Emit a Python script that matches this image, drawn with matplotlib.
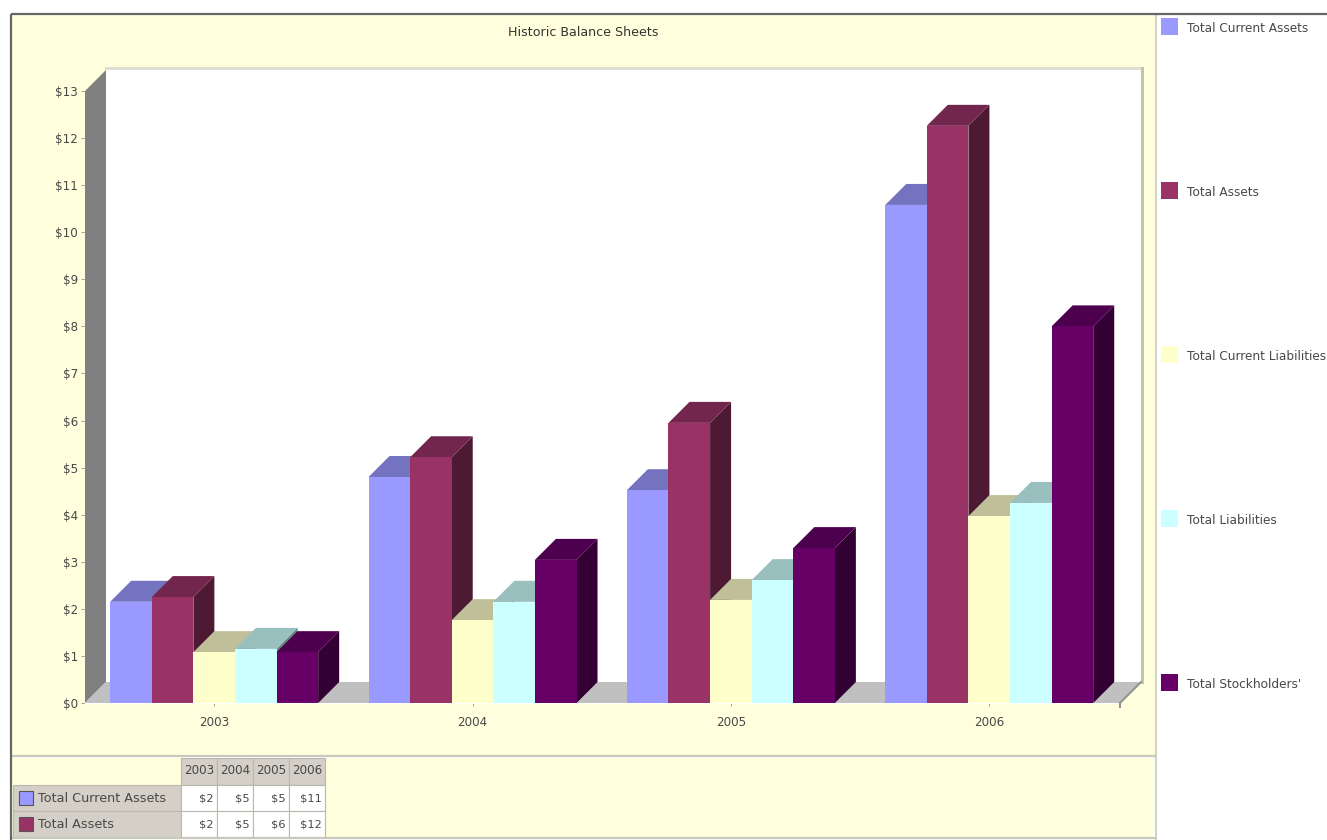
import matplotlib
matplotlib.use("Agg")
import matplotlib.pyplot as plt
from matplotlib.patches import Polygon, Rectangle

years = ["2003", "2004", "2005", "2006"]
series_names = ["Total Current Assets", "Total Assets", "Total Current Liabilities",
                "Total Liabilities", "Total Stockholders'"]
current_assets = [2.15, 4.80, 4.52, 10.58]
total_assets = [2.25, 5.22, 5.95, 12.26]
current_liabilities = [1.08, 1.76, 2.19, 3.97]
total_liabilities = [1.15, 2.15, 2.61, 4.25]
stockholders = [1.08, 3.04, 3.29, 8.00]
series_values = [current_assets, total_assets, current_liabilities, total_liabilities, stockholders]

front_colors = ["#9999FF", "#993366", "#FFFFCC", "#CCFFFF", "#660066"]
top_colors = ["#7373BF", "#73264D", "#BFBF99", "#99BFBF", "#4D004D"]
side_colors = ["#4D4D80", "#4D1933", "#80806A", "#668080", "#330033"]

y_ticks = list(range(0, 14))
table_rows = [["$2", "$5", "$5", "$11"], ["$2", "$5", "$6", "$12"]]

W, H = 1327, 840
TEXT = "#484848"
PANEL = "#FFFFDD"
plt.rcParams["font.family"] = "DejaVu Sans"

fig = plt.figure(figsize=(W / 100, H / 100), dpi=100, facecolor="white")


def px_axes(left, top, right, bottom):
    return fig.add_axes([left / W, 1 - bottom / H, (right - left) / W, (bottom - top) / H])


# Pixel-addressed backdrop for the panels, legend and data table
bg = fig.add_axes([0, 0, 1, 1])
bg.set_xlim(0, W)
bg.set_ylim(H, 0)
bg.axis("off")
bg.add_patch(Rectangle((12, 15), 1143, 740, fc=PANEL, ec="none"))
bg.add_patch(Rectangle((12, 758), 1141, 79, fc=PANEL, ec="none"))
bg.plot([1155.5, 1155.5], [15, 840], color="#D4D4CC", lw=1.6)
bg.plot([12, 1155], [756, 756], color="#C8C8BC", lw=1.6)
bg.plot([12, 1155], [838, 838], color="#C8C8BC", lw=1.6)
bg.plot([11, 1327], [14, 14], color="#666666", lw=1.6, solid_capstyle="butt")
bg.plot([11, 11], [14, 840], color="#666666", lw=1.6, solid_capstyle="butt")
bg.text(583, 32, "Historic Balance Sheets", ha="center", va="center",
        fontsize=9.1, color="#333333")

# Legend column on the right
for name, color, y in zip(series_names, front_colors, [27, 191, 355, 519, 683]):
    bg.add_patch(Rectangle((1161, y - 9), 17, 17, fc=color, ec="none"))
    bg.text(1187, y + 1, name, ha="left", va="center", fontsize=8.7, color=TEXT)

# Plot area: x counts categories, y is dollars
AX_RIGHT = 1118.4
ax = px_axes(85, 91, AX_RIGHT, 703)
ax.set_xlim(0, 4)
ax.set_ylim(0, 13)
ax.patch.set_alpha(0)
for s in ["top", "right", "left"]:
    ax.spines[s].set_visible(False)
ax.spines["bottom"].set_color("#FFFFFF")
ax.set_yticks(y_ticks)
ax.set_yticklabels([f"${v}" for v in y_ticks])
ax.set_xticks([0.5, 1.5, 2.5, 3.5])
ax.set_xticklabels(years)
ax.tick_params(axis="y", length=3, width=0.7, color="#A0A0A0", labelsize=8.6, labelcolor=TEXT, pad=2)
ax.tick_params(axis="x", length=2, width=0.7, color="#A0A0A0", labelsize=8.6, labelcolor=TEXT, pad=7.5)

unit_x = (AX_RIGHT - 85) / 4
dx = 21 / unit_x
dy = 21 / (612 / 13)
box_end = 1035 / unit_x
wall_top = 13 + dy + 0.04
bar_w = 41.6 / unit_x
group_w = 5 * bar_w

# Back wall, side wall and floor of the 3D box
ax.add_patch(Polygon([(dx, dy), (box_end + dx, dy), (box_end + dx, wall_top), (dx, wall_top)],
                     fc="white", ec="none", clip_on=False, zorder=0.5))
ax.plot([dx, box_end + dx], [wall_top, wall_top], color="#DCDCD4", lw=2.0,
        clip_on=False, zorder=0.55)
ax.plot([box_end + dx + 0.005] * 2, [dy, wall_top], color="#C4C4AC", lw=2.2,
        clip_on=False, zorder=0.55)
ax.add_patch(Polygon([(0, 0), (dx, dy), (dx, 13 + dy), (0, 13)], fc="#808080", ec="none",
                     clip_on=False, zorder=0.6))
ax.add_patch(Polygon([(0, 0), (box_end, 0), (box_end + dx, dy), (dx, dy)], fc="#C0C0C0", ec="none",
                     clip_on=False, zorder=0.6))
ax.plot([box_end, box_end + dx], [0, dy], color="#909090", lw=1.4, clip_on=False, zorder=0.7)
ax.plot([box_end, box_end], [0, -0.08], color="#909090", lw=1.4, clip_on=False, zorder=0.7)

# Each bar is painted left to right so the next front face hides the previous side
z = 2.0
for g in range(len(years)):
    left = g + 0.5 - group_w / 2
    for s, values in enumerate(series_values):
        x0 = left + s * bar_w
        x1 = x0 + bar_w
        v = values[g]
        ax.add_patch(Polygon([(x1, 0), (x1 + dx, dy), (x1 + dx, v + dy), (x1, v)],
                             fc=side_colors[s], ec="none", zorder=z, clip_on=False))
        ax.add_patch(Polygon([(x0, v), (x0 + dx, v + dy), (x1 + dx, v + dy), (x1, v)],
                             fc=top_colors[s], ec="none", zorder=z + 0.01, clip_on=False))
        ax.bar(x0, v, width=bar_w, align="edge", color=front_colors[s], zorder=z + 0.02)
        z += 0.1

# Data table under the chart
col_x = [181, 217, 253, 289, 325]
row_y = [758, 785, 811, 837]
for i, year in enumerate(years):
    bg.add_patch(Rectangle((col_x[i], row_y[0]), col_x[i + 1] - col_x[i], row_y[1] - row_y[0],
                           fc="#D4D0C8", ec="#B8B8B0", lw=0.8))
    bg.text(col_x[i] + 18, 771, year, ha="center", va="center", fontsize=8.6, color=TEXT)
for r, name in enumerate(series_names[:2]):
    top, bot = row_y[r + 1], row_y[r + 2]
    bg.add_patch(Rectangle((13, top), 168, bot - top, fc="#D4D0C8", ec="#B8B8B0", lw=0.8))
    bg.add_patch(Rectangle((19, top + 5.5), 14, 14, fc=front_colors[r], ec="#555555", lw=0.8))
    bg.text(38, (top + bot) / 2 + 0.5, name, ha="left", va="center", fontsize=9.2, color=TEXT)
    for i, cell in enumerate(table_rows[r]):
        bg.add_patch(Rectangle((col_x[i], top), col_x[i + 1] - col_x[i], bot - top,
                               fc="white", ec="#B8B8B0", lw=0.8))
        bg.text(col_x[i + 1] - 3, (top + bot) / 2 + 0.5, cell, ha="right", va="center",
                fontsize=8.2, color=TEXT)

fig.savefig("out.png", dpi=100, facecolor="white")
